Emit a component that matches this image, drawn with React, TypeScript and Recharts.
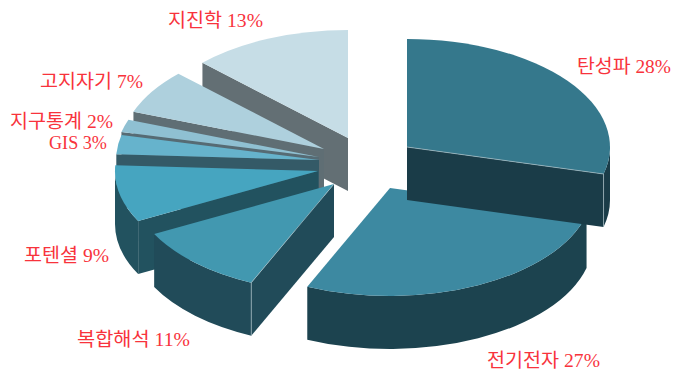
import { PieChart, Pie } from 'recharts'

const categories = ['탄성파', '전기전자', '복합해석', '포텐셜', 'GIS', '지구통계', '고지자기', '지진학']
const shares = [28, 27, 11, 9, 3, 2, 7, 13]

// per-slice drawing settings, same order as categories
const topColors = ['#35788c', '#3d89a1', '#4298b0', '#46a5c0', '#66b3cc', '#8fc0d2', '#aed0dd', '#c6dde6']
const wallColors = ['#1a3c48', '#1c434f', '#214b59', '#22525f', '#345a67', '#566b74', '#5f6e74', '#636f74']
const explodeX = [67, 50, -6, -22, -21, -21, -16, 8]
const explodeY = [-13, 28, 24, 11, 0, -3, -11, -22]
const labelX = [577, 487, 77, 24, 49, 10, 40, 168]
const labelY = [73, 367, 346, 262, 149, 128, 88, 27]
const labelWidth = [94, 113, 113, 85, 58, 103, 103, 95]
const litEdges = ['탄성파', '복합해석']

const RX = 203
const RY = 108
const DEPTH = 53

// drawn back to front, so the slices run counter-clockwise from 12 o'clock
const pieData = categories
  .map((name, i) => ({ name, value: shares[i] }))
  .reverse()

// clockwise degrees from 12 o'clock, with a slight stretch for the perspective
const toView = (mathAngle: number) => {
  const a = 90 - mathAngle
  const t = a <= 0 ? a + 360 : a
  return t + 3.1 * (1 - Math.cos((t * Math.PI) / 180))
}

function Slice3D(props: any) {
  const i = categories.indexOf(props.name)
  const ax = props.cx + explodeX[i]
  const ay = props.cy + explodeY[i]
  const from = toView(props.endAngle)
  const to = props.startAngle === 90 ? 360 : toView(props.startAngle)

  const pt = (deg: number) => {
    const r = (deg * Math.PI) / 180
    return { x: ax + RX * Math.sin(r), y: ay - RY * Math.cos(r) }
  }
  const p1 = pt(from)
  const p2 = pt(to)
  const mid = pt((from + to) / 2)

  const faces: any[] = []

  // flat cut faces that look toward the viewer
  ;[p1, p2].forEach((p, k) => {
    const dx = p.x - ax
    if (Math.abs(dx) < 1) return
    const lineY = ay + ((p.y - ay) * (mid.x - ax)) / dx
    if (mid.y >= lineY) return
    faces.push(
      <path
        key={`cut${k}`}
        d={`M${ax} ${ay}L${p.x} ${p.y}L${p.x} ${p.y + DEPTH}L${ax} ${ay + DEPTH}Z`}
        fill={wallColors[i]}
      />,
    )
  })

  // outer rim, only the front half of the ellipse shows
  const a = Math.max(from, 90)
  const b = Math.min(to, 270)
  if (a < b) {
    const pa = pt(a)
    const pb = pt(b)
    faces.push(
      <path
        key="rim"
        d={`M${pa.x} ${pa.y}A${RX} ${RY} 0 0 1 ${pb.x} ${pb.y}L${pb.x} ${pb.y + DEPTH}A${RX} ${RY} 0 0 0 ${pa.x} ${pa.y + DEPTH}Z`}
        fill={wallColors[i]}
      />,
    )
  }

  const large = to - from > 180 ? 1 : 0
  faces.push(
    <path
      key="top"
      d={`M${ax} ${ay}L${p1.x} ${p1.y}A${RX} ${RY} 0 ${large} 1 ${p2.x} ${p2.y}Z`}
      fill={topColors[i]}
    />,
  )

  if (litEdges.includes(props.name)) {
    const corner = p1.y > p2.y ? p1 : p2
    faces.push(
      <path
        key="lit"
        d={`M${ax} ${ay}L${corner.x} ${corner.y}L${corner.x} ${corner.y + DEPTH}`}
        fill="none"
        stroke="#a9bfc6"
        strokeWidth={0.7}
      />,
    )
  }

  return <g>{faces}</g>
}

function SliceLabel(props: any) {
  const i = categories.indexOf(props.name)
  return (
    <text
      x={labelX[i]}
      y={labelY[i]}
      fill="#f8333c"
      fontSize={19}
      fontFamily="'Liberation Serif', 'Noto Sans CJK KR', serif"
      textLength={labelWidth[i]}
      lengthAdjust="spacingAndGlyphs"
    >
      {`${props.name} ${props.value}%`}
    </text>
  )
}

export default function App() {
  return (
    <div style={{ position: 'absolute', left: 0, top: 0, background: '#fff' }}>
      <PieChart width={673} height={376} margin={{ top: 0, right: 0, bottom: 0, left: 0 }}>
        <Pie
          data={pieData}
          dataKey="value"
          nameKey="name"
          cx={340}
          cy={160}
          outerRadius={RX}
          startAngle={90}
          endAngle={450}
          stroke="none"
          shape={Slice3D}
          label={SliceLabel}
          labelLine={false}
          isAnimationActive={false}
        />
      </PieChart>
    </div>
  )
}
